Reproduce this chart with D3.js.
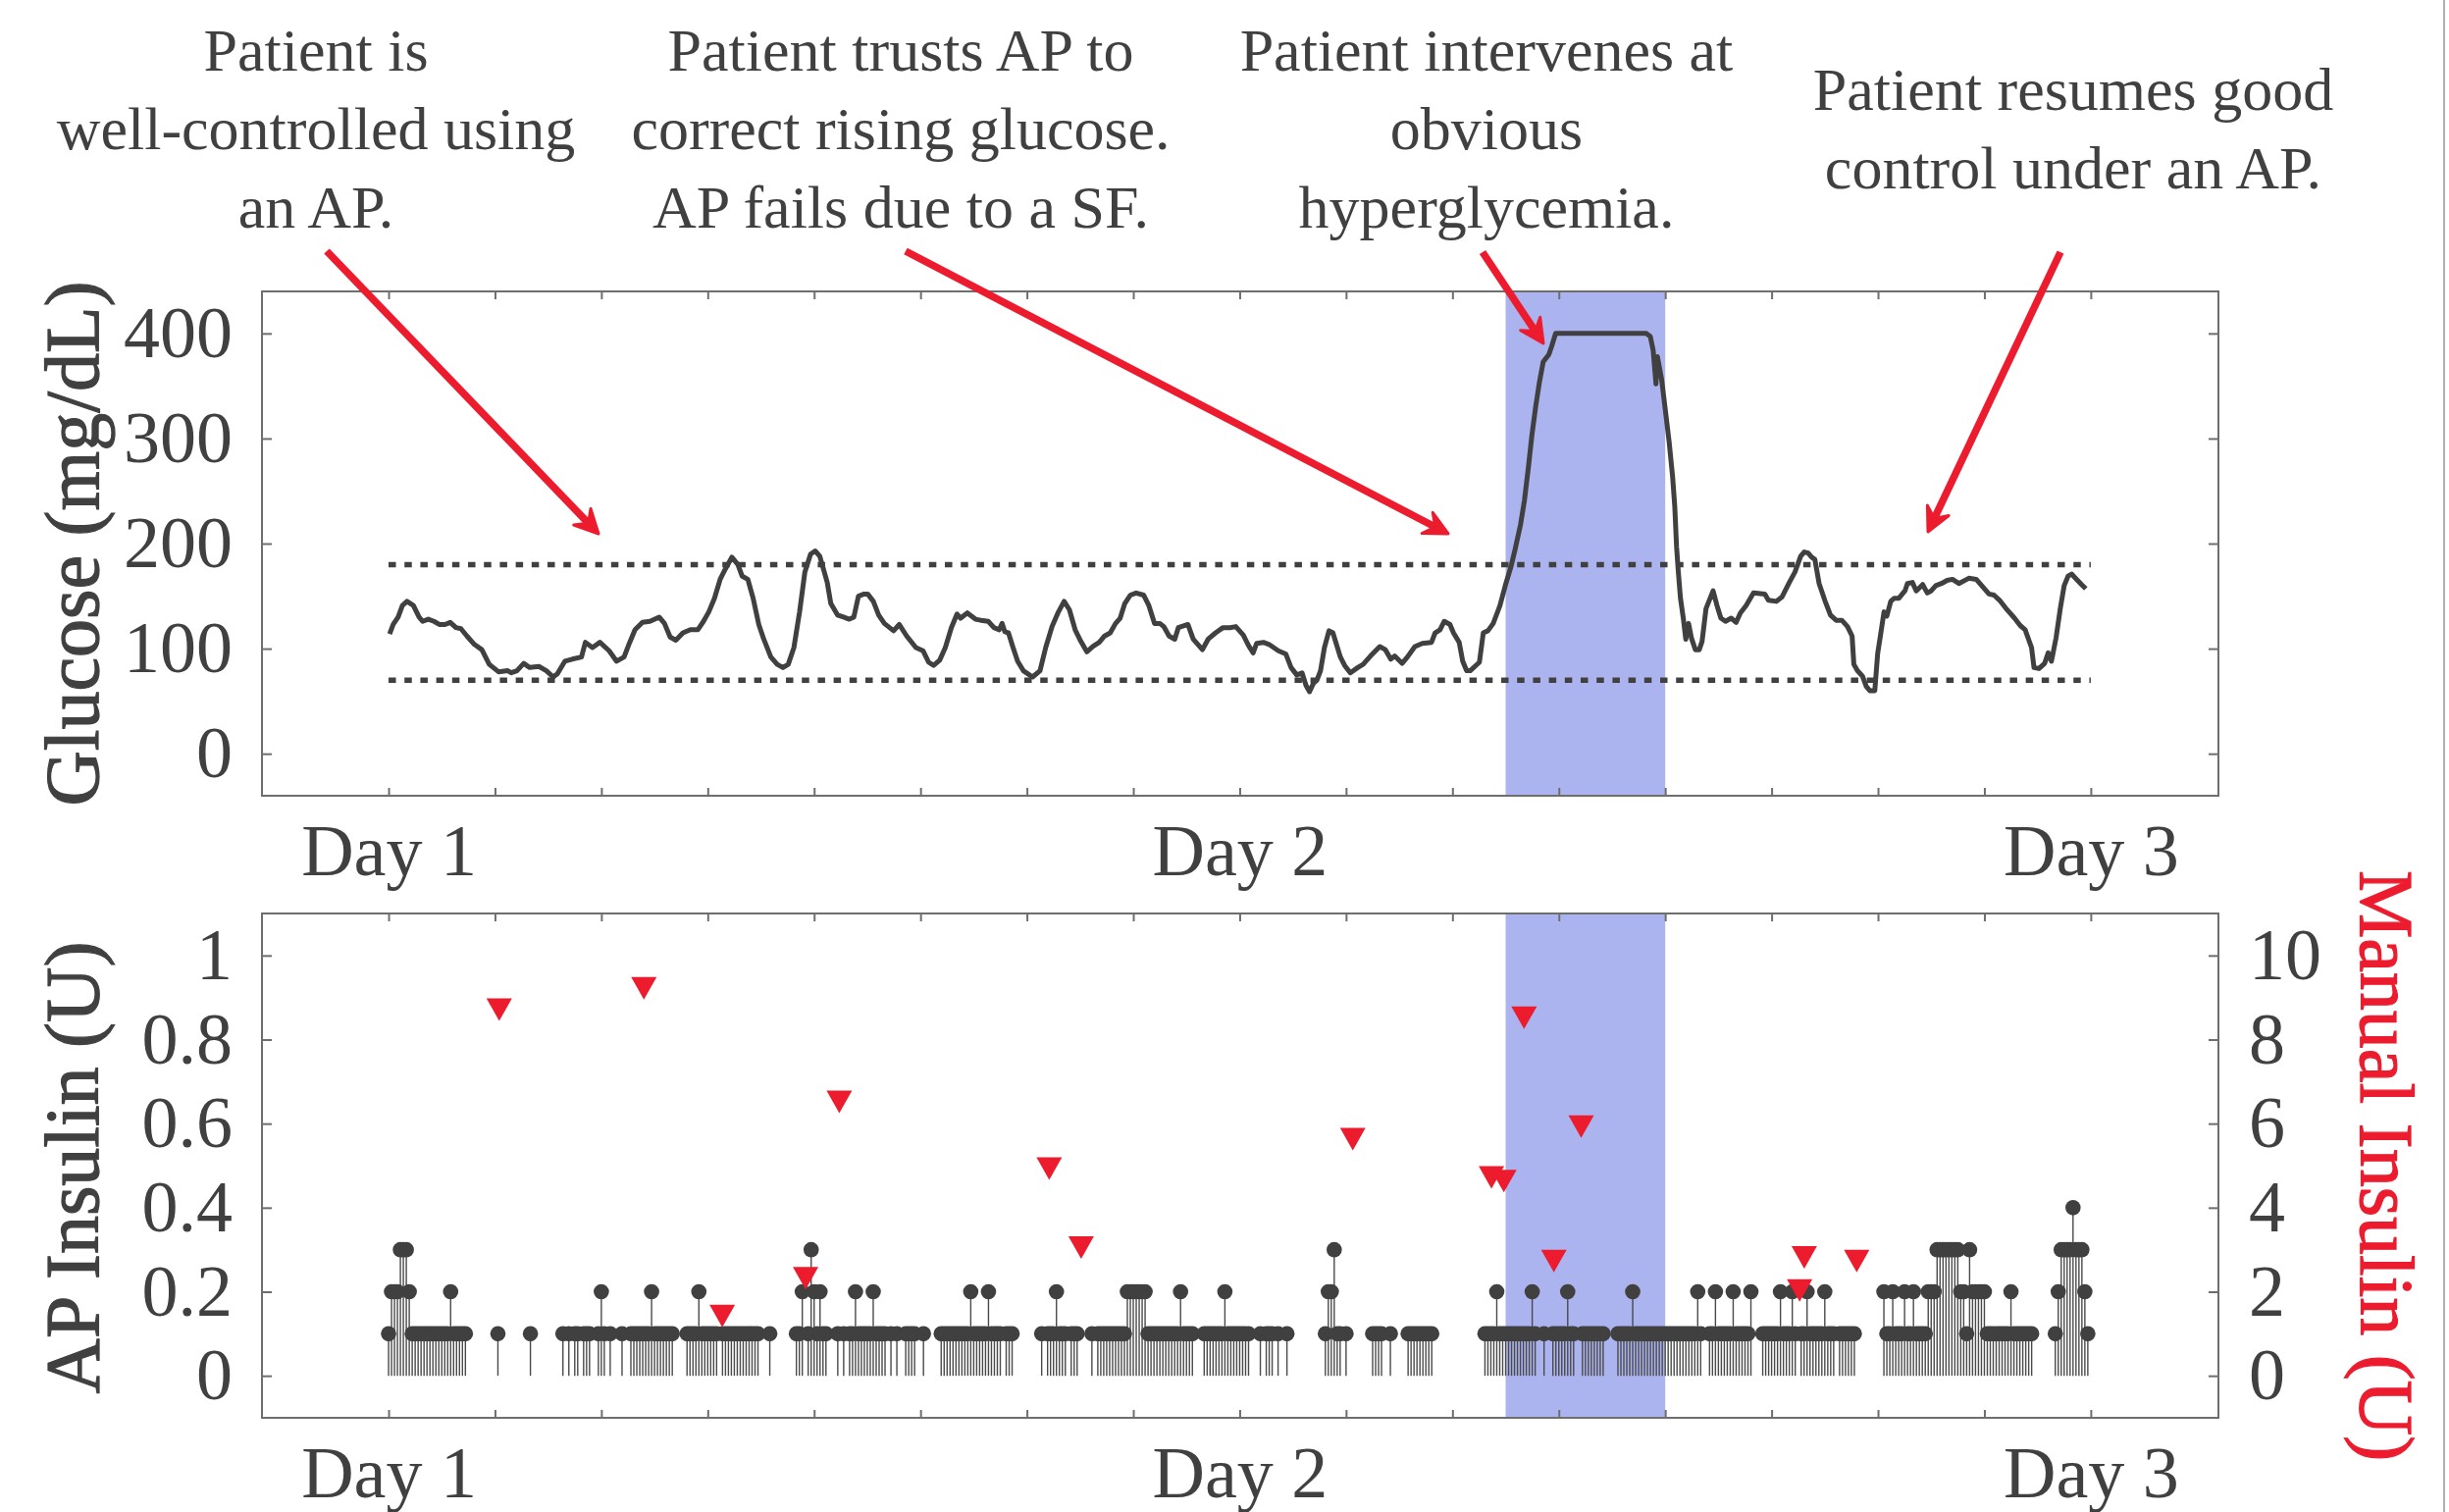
<!DOCTYPE html>
<html>
<head>
<meta charset="utf-8">
<script src="https://cdn.jsdelivr.net/npm/d3@7"></script>
<style>
  body { margin: 0; background: #fff; }
  svg { display: block; }
</style>
</head>
<body>
<svg id="fig" width="2496" height="1541"></svg>
<script>
// ---- data ----
const dayTicks = [0, 24, 48]
const dayLabels = ["Day 1", "Day 2", "Day 3"]
const hourTicks = [0, 3, 6, 9, 12, 15, 18, 21, 24, 27, 30, 33, 36, 39, 42, 45, 48]
const glucoseTicks = [0, 100, 200, 300, 400]
const apTicks = [0, 0.2, 0.4, 0.6, 0.8, 1]
const manualTicks = [0, 2, 4, 6, 8, 10]
const targetRange = [70, 180]
const interventionWindow = [31.5, 36.0]

// [hour, mg/dL]
const glucoseTrace = [
  [0.03,114],[0.13,123],[0.27,130],[0.39,141],[0.52,145],[0.70,141],[0.86,130],[0.96,126],[1.12,128],[1.28,126],
  [1.43,123],[1.59,123],[1.74,125],[1.90,120],[2.04,119],[2.21,112],[2.42,104],[2.63,99],[2.84,85],[3.10,78],
  [3.36,79],[3.46,77],[3.62,79],[3.81,86],[3.98,82],[4.24,83],[4.45,79],[4.64,73],[4.76,76],[4.97,88],
  [5.18,90],[5.44,92],[5.55,106],[5.75,101],[5.96,106],[6.22,98],[6.43,88],[6.64,92],[6.80,106],[6.95,118],
  [7.16,125],[7.37,126],[7.63,130],[7.78,124],[7.94,111],[8.10,108],[8.30,115],[8.51,118],[8.72,118],[8.88,126],
  [9.03,135],[9.19,148],[9.35,166],[9.50,176],[9.68,187],[9.85,180],[9.97,169],[10.13,166],[10.28,148],[10.44,123],
  [10.58,109],[10.78,92],[10.96,85],[11.12,82],[11.27,85],[11.43,101],[11.59,135],[11.74,173],[11.90,190],[12.03,193],
  [12.16,188],[12.37,163],[12.47,143],[12.66,132],[12.83,130],[12.99,128],[13.12,130],[13.25,150],[13.41,152],[13.51,152],
  [13.67,145],[13.82,132],[13.98,124],[14.24,117],[14.40,123],[14.61,112],[14.87,101],[15.07,98],[15.23,87],[15.37,84],
  [15.54,89],[15.70,101],[15.87,120],[16.03,133],[16.13,129],[16.32,134],[16.55,128],[16.70,127],[16.91,126],[17.07,120],
  [17.22,118],[17.30,124],[17.38,116],[17.48,115],[17.61,101],[17.74,88],[17.90,79],[18.16,73],[18.37,79],[18.53,101],
  [18.71,121],[18.89,135],[19.05,145],[19.20,137],[19.36,118],[19.52,107],[19.69,97],[19.86,102],[20.04,106],[20.19,112],
  [20.35,115],[20.50,124],[20.63,129],[20.76,143],[20.92,151],[21.08,153],[21.29,151],[21.44,141],[21.60,124],[21.75,124],
  [21.86,121],[22.01,112],[22.17,109],[22.27,120],[22.54,123],[22.69,109],[22.95,99],[23.11,109],[23.32,115],[23.53,120],
  [23.73,120],[23.89,121],[24.10,113],[24.25,103],[24.38,96],[24.48,105],[24.67,106],[24.83,104],[25.09,98],[25.30,95],
  [25.45,82],[25.61,75],[25.76,77],[25.87,65],[25.97,59],[26.08,67],[26.18,70],[26.28,79],[26.39,101],[26.52,117],
  [26.63,115],[26.84,92],[26.96,84],[27.12,77],[27.33,82],[27.48,85],[27.69,93],[27.95,102],[28.11,99],[28.26,90],
  [28.37,93],[28.58,86],[28.73,92],[28.94,102],[29.15,105],[29.41,106],[29.51,115],[29.65,118],[29.77,126],[29.93,123],
  [30.03,115],[30.19,106],[30.29,88],[30.40,79],[30.50,79],[30.76,87],[30.87,115],[31.00,117],[31.15,124],[31.34,141],
  [31.49,160],[31.65,178],[31.77,195],[31.92,218],[32.03,241],[32.14,272],[32.24,303],[32.35,331],[32.45,353],[32.56,373],
  [32.72,380],[32.80,388],[32.91,400],[35.47,400],[35.58,397],[35.66,384],[35.74,352],[35.78,378],[35.90,356],[36.00,328],
  [36.11,297],[36.21,263],[36.27,235],[36.32,197],[36.37,173],[36.43,148],[36.51,129],[36.58,109],[36.66,124],[36.74,110],
  [36.85,99],[36.96,99],[37.04,107],[37.15,138],[37.35,155],[37.46,141],[37.57,129],[37.70,126],[37.86,129],[38.00,125],
  [38.12,134],[38.28,141],[38.49,153],[38.81,152],[38.91,146],[39.13,145],[39.29,149],[39.50,163],[39.66,173],[39.82,188],
  [39.92,192],[40.03,191],[40.13,187],[40.22,185],[40.34,162],[40.50,146],[40.66,132],[40.82,127],[40.98,127],[41.14,121],
  [41.27,112],[41.32,85],[41.42,79],[41.56,74],[41.67,64],[41.77,60],[41.91,60],[41.99,95],[42.09,117],[42.17,135],
  [42.25,131],[42.36,145],[42.46,148],[42.59,148],[42.76,155],[42.83,162],[42.97,163],[43.08,155],[43.20,159],[43.26,161],
  [43.39,153],[43.50,155],[43.63,160],[43.79,162],[43.95,165],[44.10,166],[44.28,162],[44.56,167],[44.77,166],[44.95,159],
  [45.13,152],[45.27,151],[45.43,146],[45.64,137],[45.85,129],[46.01,122],[46.15,118],[46.33,101],[46.40,82],[46.54,81],
  [46.70,86],[46.80,96],[46.89,88],[47.02,110],[47.14,138],[47.25,160],[47.36,169],[47.46,171],[47.60,166],[47.74,161],
  [47.86,157]
]

// AP doses, one string per hour, one char per 5-min slot, in tenths of a unit
const apDosePerHour = [
  "122233321111", "111111111211", "111000000000", "010000000000", "100000000001", "010110111001",
  "210100010011", "111112111111", "100001111211", "111101111111", "111111000100", "000000112013",
  "212110001010", "112111112111", "101010011110", "010000011111", "111112111112", "111101110000",
  "000001011121", "110111000010", "111111111122", "222221111111", "111121111000", "111111121111",
  "111100010111", "010010000000", "000001223110", "100000000111", "100100000111", "111111000000",
  "000000000001", "111211111111", "111210010011", "111211001111", "111100001111", "121111111111",
  "111111111112", "100112111112", "111112000111", "111211121011", "211111211101", "111110000000",
  "002112111211", "211112223333", "333322132222", "211111111211", "111110000000", "123333433321"
]

const manualHours = [3.12, 7.20, 9.41, 11.76, 12.71, 18.63, 19.53, 27.19, 31.10, 31.45, 32.02, 32.86, 33.63, 39.79, 39.92, 41.40]
const manualUnits = [8.71, 9.22, 1.42, 2.32, 6.52, 4.93, 3.05, 5.63, 4.72, 4.63, 8.52, 2.73, 5.93, 2.03, 2.82, 2.73]

const noteLines = [
  ["Patient is", "well-controlled using", "an AP."],
  ["Patient trusts AP to", "correct rising glucose.", "AP fails due to a SF."],
  ["Patient intervenes at", "obvious", "hyperglycemia."],
  ["Patient resumes good", "control under an AP."]
]

// ---- layout ----
const W = 2496, H = 1541
const left = 267, right = 2261
const top1 = 297, bot1 = 811
const top2 = 931, bot2 = 1445
const noteX = [322, 918, 1515, 2113]
const noteTop = [72, 72, 72, 112]
const noteStep = 80
// annotation arrows in figure pixels: x1, y1 -> x2, y2 (tip)
const arrows = [[333, 256, 610, 544], [923, 256, 1476, 544], [1511, 257, 1573, 350], [2100, 257, 1965, 542]]

const ink = "#404040"
const red = "#ec1c2e"
const shade = "#abb4ee"
const axisGray = "#6e6e6e"
const serif = "'Liberation Serif', 'Times New Roman', serif"

const svg = d3.select("#fig")
svg.append("rect").attr("width", W).attr("height", H).attr("fill", "#fff")

const x = d3.scaleLinear().domain([-3.57, 51.6]).range([left, right])
const yG = d3.scaleLinear().domain([-40, 440]).range([bot1, top1])
const yAP = d3.scaleLinear().domain([-0.1, 1.1]).range([bot2, top2])
const yMan = d3.scaleLinear().domain([-1, 11]).range([bot2, top2])

const dayFmt = h => { const i = dayTicks.indexOf(h); return i < 0 ? "" : dayLabels[i] }

function styleAxis(g) {
  g.select(".domain").remove()
  g.selectAll(".tick line").attr("stroke", axisGray).attr("stroke-width", 2)
  g.selectAll(".tick text")
    .attr("fill", ink)
    .style("font-family", serif)
    .style("font-size", "74px")
}

function frame(yScale, top, bot, ticks, fmt) {
  svg.append("g").attr("transform", `translate(0,${bot})`)
    .call(d3.axisBottom(x).tickValues(hourTicks).tickSizeInner(-8).tickSizeOuter(0).tickPadding(28).tickFormat(dayFmt))
    .call(styleAxis)
  svg.append("g").attr("transform", `translate(0,${top})`)
    .call(d3.axisTop(x).tickValues(hourTicks).tickSizeInner(-8).tickSizeOuter(0).tickFormat(""))
    .call(styleAxis)
  svg.append("g").attr("transform", `translate(${left},0)`)
    .call(d3.axisLeft(yScale).tickValues(ticks).tickSizeInner(-10).tickSizeOuter(0).tickPadding(30).tickFormat(fmt))
    .call(styleAxis)
  svg.append("rect")
    .attr("x", left).attr("y", top)
    .attr("width", right - left).attr("height", bot - top)
    .attr("fill", "none").attr("stroke", axisGray).attr("stroke-width", 2)
}

function shadeWindow(top, bot) {
  svg.append("rect")
    .attr("x", x(interventionWindow[0])).attr("y", top)
    .attr("width", x(interventionWindow[1]) - x(interventionWindow[0]))
    .attr("height", bot - top)
    .attr("fill", shade)
}

// ---- top panel: glucose ----
shadeWindow(top1, bot1)

svg.append("g").selectAll("line").data(targetRange).join("line")
  .attr("x1", x(0)).attr("x2", x(48))
  .attr("y1", d => yG(d)).attr("y2", d => yG(d))
  .attr("stroke", ink).attr("stroke-width", 5.5)
  .attr("stroke-dasharray", "7.5,8.7")

svg.append("path")
  .datum(glucoseTrace)
  .attr("d", d3.line().x(d => x(d[0])).y(d => yG(d[1])))
  .attr("fill", "none").attr("stroke", ink)
  .attr("stroke-width", 5).attr("stroke-linejoin", "round")

frame(yG, top1, bot1, glucoseTicks, d => String(d))
svg.append("g").attr("transform", `translate(${right},0)`)
  .call(d3.axisRight(yG).tickValues(glucoseTicks).tickSizeInner(-10).tickSizeOuter(0).tickFormat(""))
  .call(styleAxis)

// ---- bottom panel: insulin ----
shadeWindow(top2, bot2)

const doses = []
apDosePerHour.forEach((row, hr) => {
  row.split("").forEach((c, k) => {
    if (c !== "0") doses.push({ h: hr + k / 12, u: +c / 10 })
  })
})

svg.append("g").selectAll("line").data(doses).join("line")
  .attr("x1", d => x(d.h)).attr("x2", d => x(d.h))
  .attr("y1", yAP(0)).attr("y2", d => yAP(d.u))
  .attr("stroke", "#4a4a4a").attr("stroke-width", 1.4)

svg.append("g").selectAll("circle").data(doses).join("circle")
  .attr("cx", d => x(d.h)).attr("cy", d => yAP(d.u))
  .attr("r", 7.8).attr("fill", ink)

svg.append("g").selectAll("path").data(manualHours).join("path")
  .attr("d", "M-13,-11.5L13,-11.5L0,11.5Z")
  .attr("transform", (h, i) => `translate(${x(h)},${yMan(manualUnits[i])})`)
  .attr("fill", red)

frame(yAP, top2, bot2, apTicks, d => String(d))
svg.append("g").attr("transform", `translate(${right},0)`)
  .call(d3.axisRight(yMan).tickValues(manualTicks).tickSizeInner(-10).tickSizeOuter(0).tickPadding(31).tickFormat(d => String(d)))
  .call(styleAxis)

// ---- axis titles ----
function title(txt, tx, ty, rot, color) {
  svg.append("text")
    .attr("transform", `translate(${tx},${ty}) rotate(${rot})`)
    .attr("text-anchor", "middle")
    .attr("fill", color).attr("stroke", color).attr("stroke-width", 1.2)
    .style("font-family", serif).style("font-size", "78px")
    .text(txt)
}
title("Glucose (mg/dL)", 100, 554, -90, ink)
title("AP Insulin (U)", 100, 1190, -90, ink)
title("Manual Insulin (U)", 2406, 1188, 90, red)

// ---- annotations ----
noteLines.forEach((lines, i) => {
  const t = svg.append("text")
    .attr("text-anchor", "middle").attr("fill", ink)
    .style("font-family", serif).style("font-size", "62px")
  lines.forEach((ln, j) => {
    t.append("tspan").attr("x", noteX[i]).attr("y", noteTop[i] + j * noteStep).text(ln)
  })
})

arrows.forEach(([x1, y1, x2, y2]) => {
  const ang = Math.atan2(y2 - y1, x2 - x1)
  const back = 14
  svg.append("line")
    .attr("x1", x1).attr("y1", y1)
    .attr("x2", x2 - back * Math.cos(ang)).attr("y2", y2 - back * Math.sin(ang))
    .attr("stroke", red).attr("stroke-width", 7.5)
  svg.append("path")
    .attr("d", "M0,0L-24,-12L-15,0L-24,12Z")
    .attr("transform", `translate(${x2},${y2}) rotate(${ang * 180 / Math.PI})`)
    .attr("fill", red).attr("stroke", red).attr("stroke-width", 3).attr("stroke-linejoin", "round")
})

// figure edge
svg.append("line").attr("x1", 2491).attr("x2", 2491).attr("y1", 0).attr("y2", H)
  .attr("stroke", "#b0b0b0").attr("stroke-width", 2)
</script>
</body>
</html>
